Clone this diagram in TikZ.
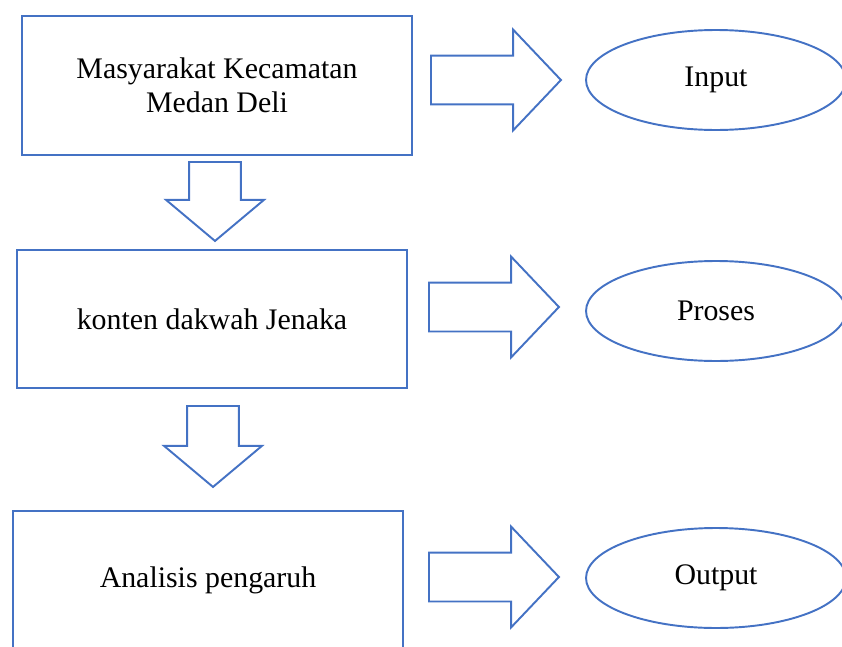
\documentclass[tikz,border=0pt]{standalone}
\usepackage{fontspec}
\setmainfont{Liberation Serif}
\usepackage{xcolor}
\usetikzlibrary{positioning}
\usetikzlibrary{shapes.geometric}
\usetikzlibrary{shapes.arrows}

\definecolor{wordblue}{RGB}{68,114,196}

\begin{document}
\begin{tikzpicture}[x=0.02cm,y=-0.02cm,line width=1.1pt,
  box/.style={draw=wordblue,rectangle,minimum width=7.8cm,minimum height=2.77cm,align=center,font=\fontsize{17}{19.5}\selectfont},
  oval/.style={draw=wordblue,ellipse,minimum width=5.2cm,minimum height=2cm,font=\fontsize{17}{19.5}\selectfont},
  bigright/.style={draw=wordblue,single arrow,inner sep=0pt,inner ysep=0.47cm,minimum height=2.6cm,single arrow head extend=0.52cm,single arrow tip angle=93,anchor=tail},
  bigdown/.style={draw=wordblue,single arrow,inner sep=0pt,inner ysep=0.5cm,single arrow head extend=0.46cm,single arrow tip angle=100,anchor=tail,rotate=-90}]
\useasboundingbox (0,0) rectangle (842,646);
\clip (0,0) rectangle (842,646);

\node[box]  (A) at (217,85.5) {Masyarakat Kecamatan\\Medan Deli};
\node[box]  (B) at (212,319)  {konten dakwah Jenaka};
\node[box]  (C) at (208,580)  {Analisis pengaruh};

\node[oval] (in)  at (716,80)  {Input};
\node[oval] (pro) at (716,311) {Proses};
\node[oval] (out) at (716,578) {Output};

% panah ke bawah
\node[bigdown,minimum height=1.58cm] (AB) at (215,161) {};
\node[bigdown,minimum height=1.62cm] (BC) at (213,405) {};

% panah ke kanan
\node[bigright] (Ain)  at (430,80)  {};
\node[bigright] (Bpro) at (428,307) {};
\node[bigright] (Cout) at (428,577) {};
\end{tikzpicture}
\end{document}
